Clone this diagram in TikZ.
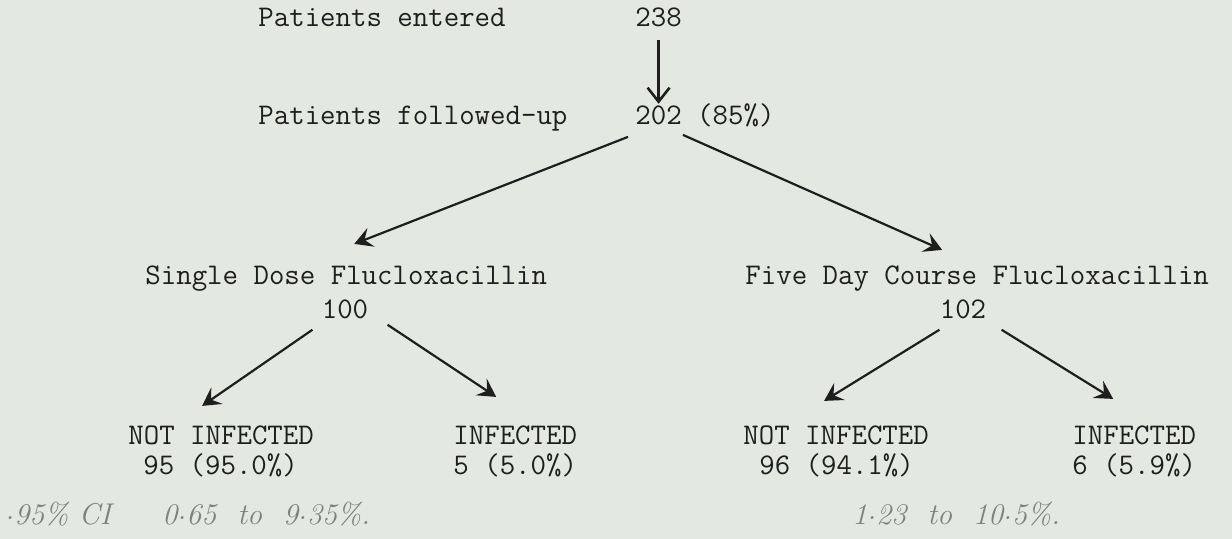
\documentclass[tikz,border=0pt]{standalone}
\usepackage{fontspec}
\usetikzlibrary{arrows.meta,calc}

\definecolor{paper}{HTML}{E3E9E1}
\definecolor{ink}{HTML}{1E1E1E}
\definecolor{pencil}{HTML}{7C817C}

\newcommand{\middot}{\raisebox{0.35ex}{.}}

\tikzset{
  typed/.style={anchor=base west, inner sep=0pt, text=ink,
    font=\ttfamily\fontsize{15}{18}\selectfont},
  count/.style={typed, anchor=base},
  hand/.style={anchor=base west, inner sep=0pt, text=pencil,
    font=\itshape\fontsize{15}{17}\selectfont},
  flow/.style={draw=ink, line width=1.1pt,
    -{Stealth[length=9pt,width=10pt,inset=3.5pt]}}
}

\begin{document}
\begin{tikzpicture}[x=0.5pt,y=-0.5pt]
    % Arka plan
    \fill[paper] (0,0) rectangle (1232,539);
    \useasboundingbox (0,0) rectangle (1232,539);

    % Ust satirlar
    \node[typed] (entered) at (258,27) {Patients entered};
    \node[typed] (n238) at (635,27) {238};
    \node[typed] (fup) at (258,125) {Patients followed-up};
    \node[typed] (n202) at (635,125) {202 (85\%)};

    % Tedavi kollari
    \node[typed] (single) at (145,285) {Single Dose Flucloxacillin};
    \node[count] (n100) at (345,319) {100};
    \node[typed] (five) at (745,285) {Five Day Course Flucloxacillin};
    \node[count] (n102) at (963,319) {102};

    % Sonuclar
    \node[typed] (notinfA) at (128,445) {NOT INFECTED};
    \node[typed] (resA) at (143,475) {95 (95.0\%)};
    \node[typed] (infA) at (453,445) {INFECTED};
    \node[typed] (resB) at (453,475) {5 (5.0\%)};
    \node[typed] (notinfB) at (743,445) {NOT INFECTED};
    \node[typed] (resC) at (759,475) {96 (94.1\%)};
    \node[typed] (infB) at (1072,445) {INFECTED};
    \node[typed] (resD) at (1072,475) {6 (5.9\%)};

    % El yazisi notlar
    \node[hand] (ciA) at (5,524) {\middot 95\% CI};
    \node[hand] (ciB) at (162,524) {0\middot 65 \ to \ 9\middot 35\%.};
    \node[hand] (ciC) at (852,524) {1\middot 23 \ to \ 10\middot 5\%.};

    % Oklar
    \draw[flow, -{Straight Barb[length=7pt,width=11pt,line width=1.3pt]}, shorten <=6pt]
      (n238.south) -- (n238.south |- n202.north);
    \draw[flow] ($(n202.south west)+(-7,9)$) -- ($(single.north)+(8,-22)$);
    \draw[flow] ($(n202.south)+(-22,7)$) -- ($(five.north)+(-35,-16)$);
    \draw[flow] ($(n100.south west)+(-9,10)$) -- ($(notinfA.north)+(-19,-20)$);
    \draw[flow] ($(n100.south east)+(19,5)$) -- ($(infA.north)+(-19,-29)$);
    \draw[flow] ($(n102.south west)+(0,10)$) -- ($(notinfB.north)+(-12,-25)$);
    \draw[flow] ($(n102.south east)+(15,10)$) -- ($(infB.north)+(-21,-27)$);
\end{tikzpicture}
\end{document}
